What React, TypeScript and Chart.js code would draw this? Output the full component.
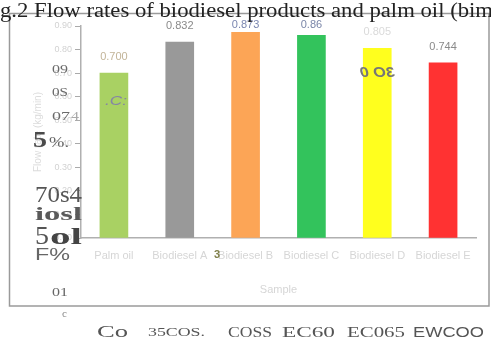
import React, { useEffect, useRef } from "react";
import { Chart, registerables } from "chart.js";

Chart.register(...registerables);

// Samples and measured flow rates
const categories = ["Palm oil", "Biodiesel A", "Biodiesel B", "Biodiesel C", "Biodiesel D", "Biodiesel E"];
const valueLabels = ["0.700", "0.832", "0.873", "0.86", "0.805", "0.744"];
const flowRates = valueLabels.map(Number);
const yTickValues = [0, 0.1, 0.2, 0.3, 0.4, 0.5, 0.6, 0.7, 0.8, 0.9];

const figureTitle = "Fig.2 Flow rates of biodiesel products and palm oil (bimodal)";
const xAxisTitle = "Sample";
const yAxisTitle = "Flow rate (kg/min)";

const barColors = ["#a9d163", "#999999", "#fca556", "#33c35c", "#ffff1e", "#ff3232"];
const valueLabelColors = ["#c2b498", "#8a8a8a", "#7a86b0", "#7a86a8", "#dadada", "#8a8a8a"];

type Stamp = { text: string; x: number; y: number; font: string; color: string; width?: number; mirror?: boolean };

// Loose print marks scattered around the figure
const stamps: Stamp[] = [
  { text: "09", x: 52, y: 70, font: "12px 'Liberation Serif'", color: "#6a6a6a", width: 16 },
  { text: "0S", x: 52, y: 93, font: "12px 'Liberation Serif'", color: "#6a6a6a", width: 16 },
  { text: "07", x: 52, y: 117, font: "12px 'Liberation Serif'", color: "#6a6a6a", width: 18 },
  { text: "4", x: 71, y: 117, font: "12px 'Liberation Serif'", color: "#aaaaaa", width: 8 },
  { text: "5", x: 33, y: 141, font: "bold 24px 'Liberation Serif'", color: "#4a4a4a", width: 14 },
  { text: "%.", x: 49, y: 143, font: "14px 'Liberation Serif'", color: "#666666", width: 20 },
  { text: "70s4", x: 35, y: 196, font: "24px 'Liberation Serif'", color: "#555555", width: 47 },
  { text: "iosl", x: 35, y: 215, font: "bold 19px 'Liberation Serif'", color: "#5a5a5a", width: 47 },
  { text: "5", x: 35, y: 237, font: "26px 'Liberation Serif'", color: "#555555", width: 14 },
  { text: "ol", x: 50, y: 238, font: "bold 24px 'Liberation Serif'", color: "#444444", width: 32 },
  { text: "F%", x: 35, y: 256, font: "16px 'Liberation Sans'", color: "#666666", width: 35 },
  { text: "01", x: 52, y: 293, font: "13px 'Liberation Serif'", color: "#666666", width: 16 },
  { text: "c", x: 62, y: 314, font: "11px 'Liberation Serif'", color: "#888888" },
  { text: "Co", x: 97, y: 333, font: "16px 'Liberation Serif'", color: "#555555", width: 31 },
  { text: "35COS.", x: 148, y: 333, font: "13px 'Liberation Serif'", color: "#555555", width: 57 },
  { text: "COSS", x: 228, y: 333, font: "14px 'Liberation Serif'", color: "#555555", width: 44 },
  { text: "EC60", x: 282, y: 333, font: "15px 'Liberation Serif'", color: "#555555", width: 53 },
  { text: "EC065", x: 347, y: 333, font: "14px 'Liberation Serif'", color: "#555555", width: 58 },
  { text: "EWCOO", x: 413, y: 333, font: "14px 'Liberation Sans'", color: "#555555", width: 71 },
  { text: ".C:", x: 105, y: 101, font: "italic 13px 'Liberation Sans'", color: "#8585a5", width: 22 },
  { text: "3O 0", x: 360, y: 73, font: "bold italic 15px 'Liberation Sans'", color: "#777777", width: 35, mirror: true },
  { text: "3", x: 214, y: 255, font: "bold 11px 'Liberation Sans'", color: "#80804a" },
];

function drawStamp(ctx: CanvasRenderingContext2D, s: Stamp) {
  ctx.save();
  ctx.font = s.font;
  ctx.fillStyle = s.color;
  ctx.textBaseline = "middle";
  ctx.textAlign = "left";
  const w = ctx.measureText(s.text).width;
  const sx = s.width ? s.width / w : 1;
  if (s.mirror) {
    ctx.translate(s.x + w * sx, s.y);
    ctx.scale(-sx, 1);
  } else {
    ctx.translate(s.x, s.y);
    ctx.scale(sx, 1);
  }
  ctx.fillText(s.text, 0, 0);
  ctx.restore();
}

const framePlugin = {
  id: "frame",
  beforeDraw(chart: any) {
    const ctx = chart.ctx as CanvasRenderingContext2D;
    ctx.save();
    ctx.fillStyle = "#ffffff";
    ctx.fillRect(0, 0, chart.width, chart.height);
    ctx.strokeStyle = "#9a9a9a";
    ctx.lineWidth = 1.5;
    ctx.strokeRect(9.5, 13.5, 479.5, 292.5);
    ctx.restore();
  },
  afterDraw(chart: any) {
    const ctx = chart.ctx as CanvasRenderingContext2D;
    // heading, clipped at both canvas edges
    ctx.save();
    ctx.font = "20px 'Liberation Serif'";
    ctx.fillStyle = "#222222";
    ctx.textBaseline = "alphabetic";
    const visible = "g.2 Flow rates of biodiesel products and palm oil (bim";
    const sx = 493 / ctx.measureText(visible).width;
    const lead = ctx.measureText("Fi").width * sx;
    ctx.translate(-lead, 17);
    ctx.scale(sx, 1);
    ctx.fillText(figureTitle, 0, 0);
    ctx.restore();
    stamps.forEach((s) => drawStamp(ctx, s));
  },
};

const valueLabelPlugin = {
  id: "valueLabels",
  afterDatasetsDraw(chart: any) {
    const ctx = chart.ctx as CanvasRenderingContext2D;
    const meta = chart.getDatasetMeta(0);
    ctx.save();
    ctx.font = "11px 'Liberation Sans'";
    ctx.textAlign = "center";
    ctx.textBaseline = "middle";
    meta.data.forEach((bar: any, i: number) => {
      ctx.fillStyle = valueLabelColors[i];
      // keep labels of the tallest bars below the heading
      const y = Math.max(bar.y - 16, 25);
      ctx.fillText(valueLabels[i], bar.x, y);
    });
    ctx.restore();
  },
};

export default function App() {
  const canvasRef = useRef<HTMLCanvasElement | null>(null);

  useEffect(() => {
    if (!canvasRef.current) return;
    const chart = new Chart(canvasRef.current, {
      type: "bar",
      data: {
        labels: categories,
        datasets: [
          {
            data: flowRates,
            backgroundColor: barColors,
            borderWidth: 0,
            barThickness: 28,
          },
        ],
      },
      options: {
        animation: false,
        responsive: false,
        maintainAspectRatio: false,
        layout: { padding: { top: 26, right: 15, left: 0, bottom: 0 } },
        plugins: {
          legend: { display: false },
          tooltip: { enabled: false },
          title: { display: false },
        },
        scales: {
          x: {
            grid: { display: false, drawTicks: false },
            border: { display: true, color: "#b0b0b0", width: 1.5 },
            ticks: {
              color: "#d6d6d6",
              font: { family: "'Liberation Sans'", size: 11 },
              padding: 11,
              maxRotation: 0,
              autoSkip: false,
            },
            title: {
              display: true,
              text: xAxisTitle,
              color: "#d6d6d6",
              font: { family: "'Liberation Sans'", size: 11 },
              padding: { top: 4, bottom: 47 },
            },
            afterFit(scale: any) {
              scale.height = 106;
            },
          },
          y: {
            min: 0,
            max: 0.9,
            afterBuildTicks(scale: any) {
              scale.ticks = yTickValues.map((v) => ({ value: v }));
            },
            grid: { display: true, drawOnChartArea: false, drawTicks: true, tickLength: 6, color: "#aaaaaa" },
            border: { display: true, color: "#b0b0b0", width: 1.5 },
            ticks: {
              color: "#d2d2d2",
              font: { family: "'Liberation Sans'", size: 9 },
              padding: 3,
              callback: (v: any) => Number(v).toFixed(2),
            },
            title: {
              display: true,
              text: yAxisTitle,
              color: "#dcdcdc",
              font: { family: "'Liberation Sans'", size: 10 },
              padding: { top: 32, bottom: 0 },
            },
            afterFit(scale: any) {
              scale.width = 81;
            },
          },
        },
      },
      plugins: [framePlugin, valueLabelPlugin],
    });
    return () => chart.destroy();
  }, []);

  return (
    <div style={{ position: "absolute", left: 0, top: 0, width: 491, height: 344, background: "#fff" }}>
      <canvas ref={canvasRef} width={491} height={344} style={{ display: "block", width: 491, height: 344 }} />
    </div>
  );
}
